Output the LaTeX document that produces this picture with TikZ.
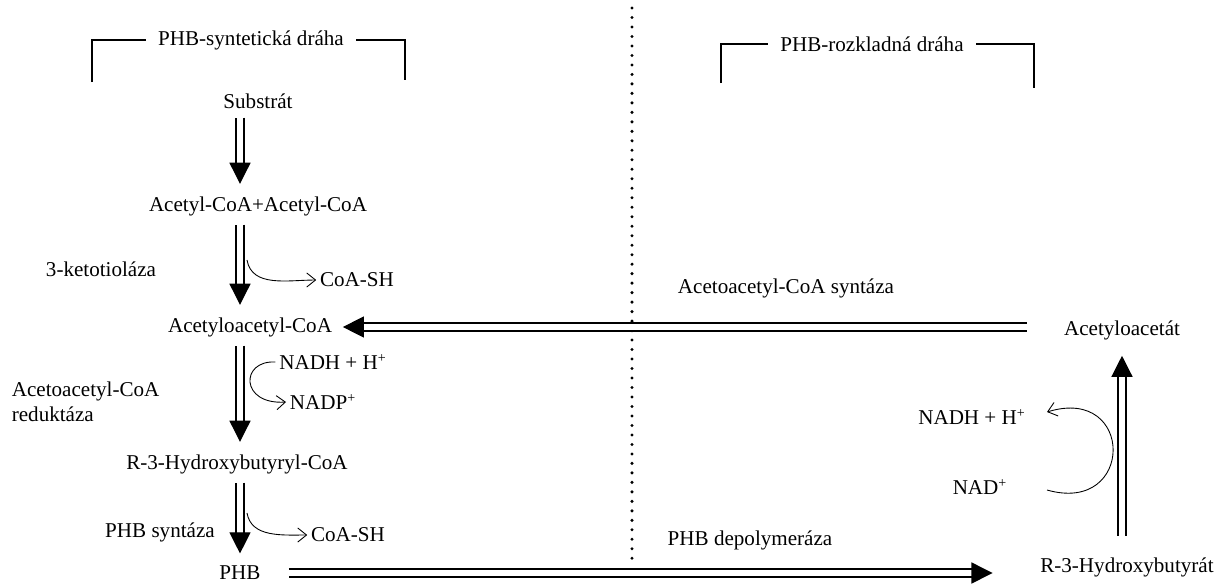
\documentclass[tikz,border=0pt]{standalone}
\usepackage{fontspec}
\setmainfont{Liberation Serif}
\usetikzlibrary{arrows.meta, positioning}
\tikzset{
  lbl/.style={inner sep=2pt, font=\fontsize{12}{14}\selectfont},
  ttl/.style={lbl, inner xsep=7pt},
  brk/.style={line width=0.7pt},
  dblarr/.style={double, double distance=3.9pt, line width=0.7pt,
                 -{Triangle[length=12pt, width=12pt]}},
  sidearr/.style={line width=0.5pt, -{Straight Barb[length=5pt, width=8pt]}},
}

\begin{document}
\begin{tikzpicture}[x=0.02cm, y=-0.02cm, every node/.style={lbl}]
  \useasboundingbox (0,0) rectangle (1215,583);

  \node[ttl] (ttlsyn) at (251,40) {PHB-syntetická dráha};
  \node[ttl] (ttlrozk) at (872,44) {PHB-rozkladná dráha};
  \draw[brk] (92,82) |- (ttlsyn.west);
  \draw[brk] (ttlsyn.east) -| (405,80);
  \draw[brk] (721,83) |- (ttlrozk.west);
  \draw[brk] (ttlrozk.east) -| (1034,88);

  \draw[line width=1.9pt, line cap=round, dash pattern=on 0pt off 5.4pt] (632,8) -- (632,565);

  % metabolites
  \node (sub) at (258,101) {Substrát};
  \node (acc) at (258,206) {Acetyl-CoA+Acetyl-CoA};
  \node (aac) at (250,327) {Acetyloacetyl-CoA};
  \node (hbc) at (237,464) {R-3-Hydroxybutyryl-CoA};
  \node (phb) at (240,573) {PHB};
  \node (aat) at (1122,330) {Acetyloacetát};
  \node (hb) at (1127,567) {R-3-Hydroxybutyrát};

  % enzymes
  \node (enz1) at (101,269) {3-ketotioláza};
  \node[align=left, anchor=west] (enz2) at (8,402) {Acetoacetyl-CoA\\reduktáza};
  \node (enz3) at (160,532) {PHB syntáza};
  \node (enz4) at (786,288) {Acetoacetyl-CoA syntáza};
  \node (enz5) at (750,540) {PHB depolymeráza};

  % cofactors
  \node (coa1) at (357,280) {CoA-SH};
  \node (nadh1) at (333,362) {NADH + H\textsuperscript{+}};
  \node (nadp) at (323,402) {NADP\textsuperscript{+}};
  \node (coa2) at (348,535) {CoA-SH};
  \node (nadh2) at (972,417) {NADH + H\textsuperscript{+}};
  \node (nad) at (980,487) {NAD\textsuperscript{+}};

  \draw[dblarr, shorten <=3pt, shorten >=5pt] (sub.south -| phb) -- (acc.north -| phb);
  \draw[dblarr, shorten <=3pt, shorten >=5pt] (acc.south -| phb) -- (aac.north -| phb);
  \draw[dblarr, shorten <=3pt, shorten >=5pt] (aac.south -| phb) -- (hbc.north -| phb);
  \draw[dblarr, shorten <=3pt, shorten >=5pt] (hbc.south -| phb) -- (phb.north);
  \draw[dblarr, shorten <=14pt, shorten >=25pt] (phb.east) -- (hb.west |- phb);
  \draw[dblarr, shorten <=10pt, shorten >=7pt] (hb.north -| aat) -- (aat.south);
  \draw[dblarr, shorten <=19pt, shorten >=4pt] (aat.west |- aac) -- (aac.east);

  \coordinate (s1) at (247,260);
  \coordinate (s2) at (247,513);
  \coordinate (r1) at (1047,490);
  \coordinate (r2) at (1047,412);
  \draw[sidearr] (s1) to[out=-80, in=180] (coa1.west);
  \draw[sidearr] (nadh1.west) .. controls (240,360) and (240,405) .. (nadp.west);
  \draw[sidearr] (s2) to[out=-80, in=180] (coa2.west);
  \draw[sidearr] (r1) .. controls (1135,515) and (1135,385) .. (r2);
\end{tikzpicture}
\end{document}
